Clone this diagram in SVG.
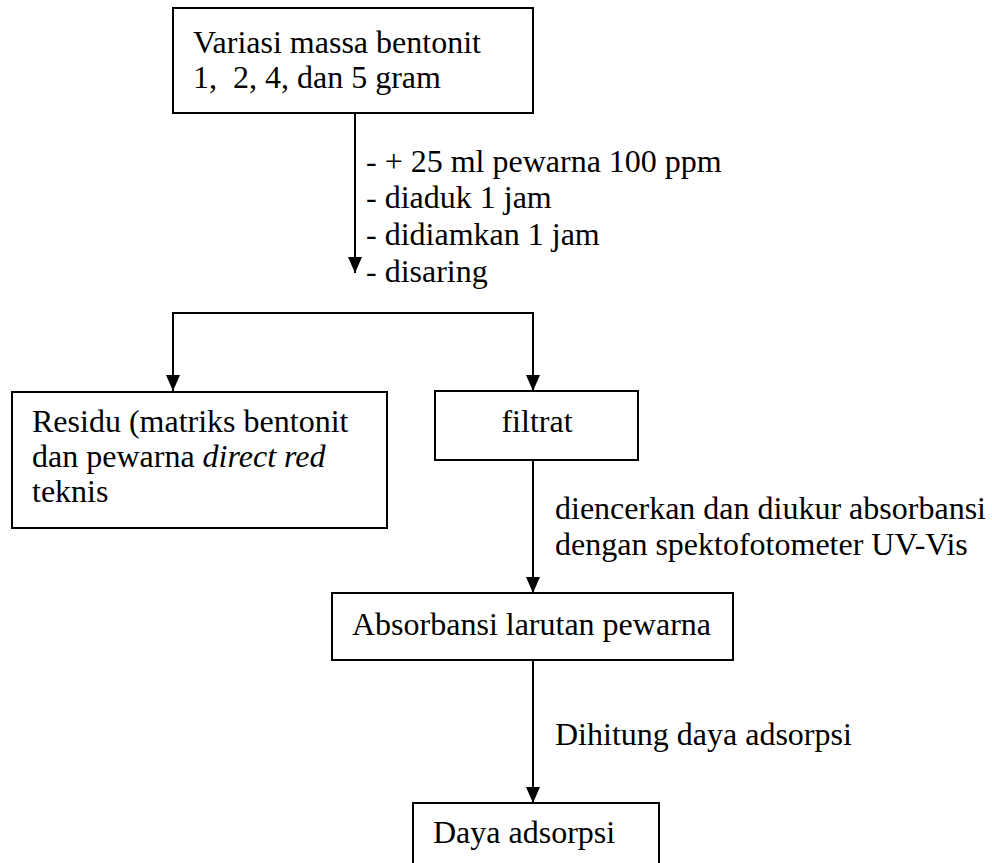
<svg xmlns="http://www.w3.org/2000/svg" width="992" height="863" viewBox="0 0 992 863">
<style>
.box{fill:#fff;stroke:#000;stroke-width:2}
.t{font-family:"Liberation Serif","Times New Roman",Tinos,"DejaVu Serif",serif;font-size:32px;fill:#000}
.c{fill:none;stroke:#000;stroke-width:2}
</style>
<defs>
<marker id="ah" markerUnits="userSpaceOnUse" markerWidth="16" markerHeight="14" viewBox="0 0 16 14" refX="16" refY="7" orient="auto">
<path d="M0,0 L16,7 L0,14 Z" fill="#000"/>
</marker>
</defs>
<rect width="992" height="863" fill="#fff"/>
<g id="connectors">
<path class="c" d="M355,113 V273" marker-end="url(#ah)"/>
<path class="c" d="M172,313 H534"/>
<path class="c" d="M173,313 V391" marker-end="url(#ah)"/>
<path class="c" d="M533,313 V391" marker-end="url(#ah)"/>
<path class="c" d="M533,460 V593" marker-end="url(#ah)"/>
<path class="c" d="M533,660 V803" marker-end="url(#ah)"/>
<text class="t" x="366" y="172">- + 25 ml pewarna 100 ppm</text>
<text class="t" x="366" y="208">- diaduk 1 jam</text>
<text class="t" x="366" y="245">- didiamkan 1 jam</text>
<text class="t" x="366" y="282">- disaring</text>
<text class="t" x="555" y="519">diencerkan dan diukur absorbansi</text>
<text class="t" x="555" y="555">dengan spektofotometer UV-Vis</text>
<text class="t" x="555" y="745">Dihitung daya adsorpsi</text>
</g>
<g id="n1">
<rect class="box" x="173" y="8" width="360" height="105"/>
<text class="t" x="193" y="53">Variasi massa bentonit</text>
<text class="t" x="193" y="88" xml:space="preserve">1,  2, 4, dan 5 gram</text>
</g>
<g id="n2">
<rect class="box" x="12" y="392" width="375" height="136"/>
<text class="t" x="32" y="432">Residu (matriks bentonit</text>
<text class="t" x="32" y="467">dan pewarna <tspan font-style="italic">direct red</tspan></text>
<text class="t" x="32" y="502">teknis</text>
</g>
<g id="n3">
<rect class="box" x="435" y="391" width="203" height="69"/>
<text class="t" x="537" y="432" text-anchor="middle">filtrat</text>
</g>
<g id="n4">
<rect class="box" x="332" y="593" width="401" height="67"/>
<text class="t" x="352" y="635">Absorbansi larutan pewarna</text>
</g>
<g id="n5">
<rect class="box" x="413" y="803" width="246" height="70"/>
<text class="t" x="433" y="843">Daya adsorpsi</text>
</g>
</svg>
